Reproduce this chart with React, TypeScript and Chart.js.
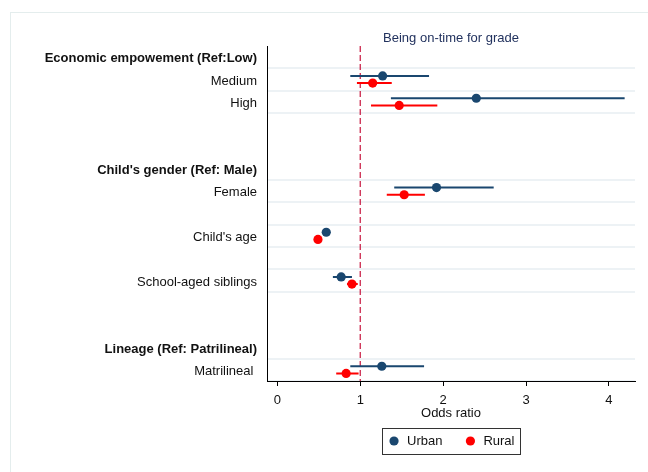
import { useEffect, useRef } from "react";
import { Chart, registerables } from "chart.js";

Chart.register(...registerables);

// ---- data ----
const chartTitle = "Being on-time for grade";
const xAxisTitle = "Odds ratio";
const rowLabels = [
  "Economic empowement (Ref:Low)",
  "Medium",
  "High",
  "",
  "",
  "Child's gender (Ref: Male)",
  "Female",
  "",
  "Child's age",
  "",
  "School-aged siblings",
  "",
  "",
  "Lineage (Ref: Patrilineal)",
  "Matrilineal ",
];
const headerLabels = [
  "Economic empowement (Ref:Low)",
  "Child's gender (Ref: Male)",
  "Lineage (Ref: Patrilineal)",
];
const variables = ["Medium", "High", "Female", "Child's age", "School-aged siblings", "Matrilineal "];
const seriesNames = ["Urban", "Rural"];
const urbanOR = [1.27, 2.4, 1.92, 0.59, 0.77, 1.26];
const urbanLo = [0.88, 1.37, 1.41, 0.57, 0.67, 0.88];
const urbanHi = [1.83, 4.19, 2.61, 0.61, 0.9, 1.77];
const ruralOR = [1.15, 1.47, 1.53, 0.49, 0.9, 0.83];
const ruralLo = [0.96, 1.13, 1.32, 0.47, 0.84, 0.71];
const ruralHi = [1.38, 1.93, 1.78, 0.51, 0.97, 0.98];
const xTicks = [0, 1, 2, 3, 4];
const refOR = 1;

// ---- styles ----
const FONT = "'Liberation Sans', Arial, Helvetica, sans-serif";
const FS = 13;
const URBAN = "#1a476f";
const RURAL = "#ff0000";
const REF = "#c8163e";
const GRID = "#edf2f5";
const TEXT = "#111111";
const OFF = 0.16;

const slotOf = (v: string) => rowLabels.indexOf(v);
const points = (or: number[], off: number) =>
  variables.map((v, i) => ({ x: or[i], y: slotOf(v) + off }));
const intervals = (lo: number[], hi: number[], off: number) =>
  variables.flatMap((v, i) => [
    { x: lo[i], y: slotOf(v) + off },
    { x: hi[i], y: slotOf(v) + off },
    { x: hi[i], y: null as any },
  ]);
const gridVals = Array.from(
  new Set(variables.flatMap((v) => [slotOf(v) - 0.5, slotOf(v) + 0.5]))
).sort((a, b) => a - b);
const yMin = -0.5;
const yMax = rowLabels.length - 0.5;

const legendFrame = {
  id: "legendFrame",
  afterDraw(chart: any) {
    const lg = chart.legend;
    if (!lg || !lg.legendHitBoxes || !lg.legendHitBoxes.length) return;
    const hb = lg.legendHitBoxes;
    const first = hb[0];
    const last = hb[hb.length - 1];
    const x0 = first.left - 5.5;
    const x1 = last.left + last.width + 6;
    const yc = first.top + first.height / 2;
    const ctx = chart.ctx;
    ctx.save();
    ctx.strokeStyle = "#333333";
    ctx.lineWidth = 1;
    ctx.strokeRect(Math.round(x0) + 0.5, Math.round(yc - 13.3) + 0.5, Math.round(x1 - x0), 26);
    ctx.restore();
  },
};

export default function App() {
  const ref = useRef<HTMLCanvasElement>(null);
  useEffect(() => {
    if (!ref.current) return;
    const chart = new Chart(ref.current, {
      type: "scatter",
      data: {
        datasets: [
          {
            label: seriesNames[0],
            data: points(urbanOR, -OFF),
            backgroundColor: URBAN,
            borderColor: URBAN,
            pointRadius: 4.6,
            pointBorderWidth: 0,
            order: 0,
          },
          {
            label: seriesNames[1],
            data: points(ruralOR, OFF),
            backgroundColor: RURAL,
            borderColor: RURAL,
            pointRadius: 4.6,
            pointBorderWidth: 0,
            order: 0,
          },
          {
            label: "Urban CI",
            data: intervals(urbanLo, urbanHi, -OFF),
            showLine: true,
            borderColor: URBAN,
            backgroundColor: URBAN,
            borderWidth: 2,
            pointRadius: 0,
            spanGaps: false,
            order: 1,
          },
          {
            label: "Rural CI",
            data: intervals(ruralLo, ruralHi, OFF),
            showLine: true,
            borderColor: RURAL,
            backgroundColor: RURAL,
            borderWidth: 2,
            pointRadius: 0,
            spanGaps: false,
            order: 1,
          },
          {
            label: "ref",
            data: [
              { x: refOR, y: yMin },
              { x: refOR, y: yMax },
            ],
            showLine: true,
            borderColor: REF,
            borderWidth: 1.2,
            borderDash: [6, 3],
            pointRadius: 0,
            order: 2,
          },
        ] as any,
      },
      options: {
        animation: false,
        responsive: false,
        layout: { padding: { top: 0, left: 0, right: 13, bottom: 14.5 } },
        plugins: {
          title: {
            display: true,
            text: chartTitle,
            color: "#22325e",
            fullSize: false,
            font: { family: FONT, size: FS, weight: "normal" as any },
            padding: { top: 30.2, bottom: 0.2 },
          },
          legend: {
            position: "bottom",
            fullSize: false,
            labels: {
              usePointStyle: true,
              pointStyle: "circle",
              boxWidth: FS,
              boxHeight: 6.5,
              padding: 21.5,
              color: TEXT,
              font: { family: FONT, size: FS },
              filter: (item: any) => seriesNames.includes(item.text),
            },
          },
          tooltip: { enabled: false },
        },
        scales: {
          x: {
            type: "linear",
            min: -0.125,
            max: 4.315,
            afterBuildTicks: (s: any) => {
              s.ticks = xTicks.map((v) => ({ value: v }));
            },
            afterFit: (s: any) => {
              s.height = 32;
            },
            ticks: {
              autoSkip: false,
              padding: 7,
              color: TEXT,
              font: { family: FONT, size: FS },
            },
            grid: {
              drawOnChartArea: false,
              drawTicks: true,
              tickLength: 5,
              tickColor: "#000",
              tickWidth: 1,
            },
            border: { display: true, color: "#000", width: 1 },
            title: {
              display: true,
              text: xAxisTitle,
              color: TEXT,
              font: { family: FONT, size: FS },
              padding: { top: 0, bottom: -7.8 },
            },
          },
          y: {
            type: "linear",
            position: "left",
            reverse: true,
            min: yMin,
            max: yMax,
            afterBuildTicks: (s: any) => {
              s.ticks = rowLabels.map((_, i) => ({ value: i }));
            },
            afterFit: (s: any) => {
              s.width = 267;
            },
            ticks: {
              autoSkip: false,
              padding: 10,
              labelOffset: 1.5,
              color: TEXT,
              callback: (v: any) => rowLabels[v] ?? "",
              font: (ctx: any) => ({
                family: FONT,
                size: FS,
                weight: headerLabels.includes(rowLabels[ctx.tick ? ctx.tick.value : -1]) ? "bold" : "normal",
              }),
            } as any,
            grid: { display: false, drawTicks: false },
            border: { display: true, color: "#000", width: 1 },
          },
          yGrid: {
            type: "linear",
            position: "left",
            reverse: true,
            min: yMin,
            max: yMax,
            afterBuildTicks: (s: any) => {
              s.ticks = gridVals.map((v) => ({ value: v }));
            },
            afterFit: (s: any) => {
              s.width = 0;
            },
            ticks: { display: false },
            grid: { color: GRID, lineWidth: 2, drawTicks: false },
            border: { display: false },
          },
        } as any,
      },
      plugins: [legendFrame],
    });
    return () => chart.destroy();
  }, []);

  return (
    <div style={{ position: "absolute", left: 0, top: 0, width: 648, height: 472, background: "#fff" }}>
      <div
        style={{
          position: "absolute",
          left: 10,
          top: 12,
          right: 0,
          bottom: 0,
          borderTop: "1px solid #e4eded",
          borderLeft: "1px solid #e4eded",
        }}
      />
      <canvas
        ref={ref}
        width={648}
        height={472}
        style={{ position: "absolute", left: 0, top: 0, width: 648, height: 472 }}
      />
    </div>
  );
}
